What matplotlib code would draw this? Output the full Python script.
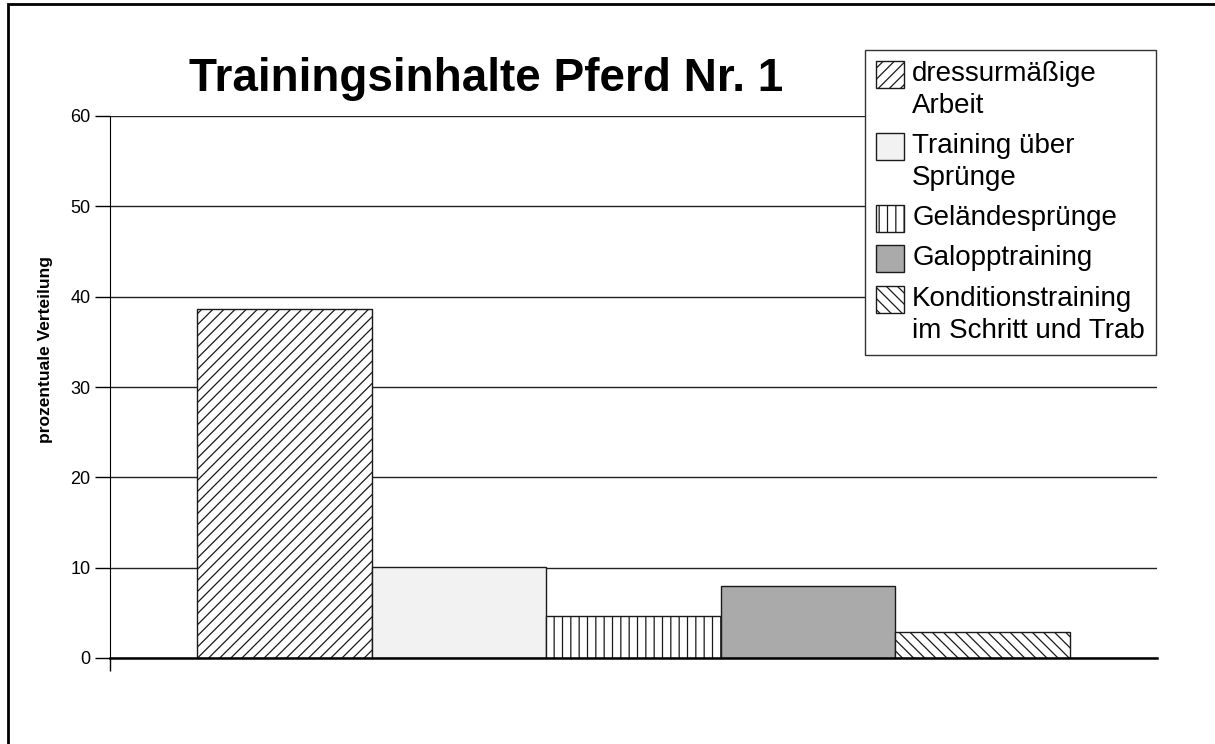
import numpy as np
import matplotlib
matplotlib.use("Agg")
import matplotlib.pyplot as plt
from matplotlib.patches import Rectangle

plt.rcParams["font.family"] = ["Liberation Sans", "DejaVu Sans"]
plt.rcParams["hatch.linewidth"] = 0.9

TITLE = "Trainingsinhalte Pferd Nr. 1"
Y_LABEL = "prozentuale Verteilung"
LABELS = [
    "dressurmäßige\nArbeit",
    "Training über\nSprünge",
    "Geländesprünge",
    "Galopptraining",
    "Konditionstraining\nim Schritt und Trab",
]
VALUES = [38.6, 10.1, 4.6, 8.0, 2.9]
FILLS = ["white", "#f2f2f2", "white", "#aaaaaa", "white"]
HATCHES = ["///", None, "||", None, "\\\\\\"]
Y_TICKS = [0, 10, 20, 30, 40, 50, 60]


def main() -> None:
    fig = plt.figure(figsize=(12.15, 7.44), dpi=100)
    ax = fig.add_axes([110 / 1215, 1 - 658 / 744, 1047 / 1215, 542 / 744])

    x = np.arange(len(VALUES))
    for i, (v, fc, h, lab) in enumerate(zip(VALUES, FILLS, HATCHES, LABELS)):
        ax.bar(x[i], v, width=1.0, color=fc, hatch=h, edgecolor="#1a1a1a",
               linewidth=1.0, label=lab, zorder=3)

    ax.set_xlim(-1, 5)
    ax.set_ylim(0, 60)
    ax.set_yticks(Y_TICKS)
    ax.yaxis.grid(True, color="#222222", linewidth=1.0, zorder=0)
    ax.set_axisbelow(True)
    ax.set_xticks([-1])
    ax.set_xticklabels([])
    ax.tick_params(axis="x", direction="out", length=9, width=1, color="black")
    ax.tick_params(axis="y", direction="out", length=11, width=1, labelsize=13, pad=3)

    for side in ["top", "right"]:
        ax.spines[side].set_visible(False)
    ax.spines["left"].set_color("black")
    ax.spines["bottom"].set_color("black")
    ax.spines["bottom"].set_linewidth(1.8)
    ax.spines["bottom"].set_zorder(4)

    ax.set_ylabel(Y_LABEL, fontsize=12.5, fontweight="bold")
    ax.yaxis.set_label_coords(-0.054, 0.57)

    fig.text(486 / 1215, 1 - 79 / 744, TITLE, fontsize=33, fontweight="bold",
             ha="center", va="center")

    leg = fig.legend(loc="upper right", bbox_to_anchor=(1156 / 1215, 1 - 50 / 744),
                     fontsize=20, frameon=True, fancybox=False, framealpha=1,
                     edgecolor="#333333", handlelength=1.0, handleheight=1.1,
                     handletextpad=0.3, borderpad=0.4, labelspacing=0.5,
                     borderaxespad=0)
    leg.get_frame().set_linewidth(1.0)
    for t in leg.get_texts():
        t.set_linespacing(1.3)
    # put the key square beside the first line, not the middle of the label
    for col in leg._legend_handle_box.get_children():
        for row in col.get_children():
            row.align = "top"

    fig.patches.append(Rectangle((8 / 1215, -0.1), 1.2, 1.1 - 4 / 744,
                                 transform=fig.transFigure, fill=False,
                                 edgecolor="black", linewidth=2))

    fig.savefig("out.png", dpi=100)


if __name__ == "__main__":
    main()
